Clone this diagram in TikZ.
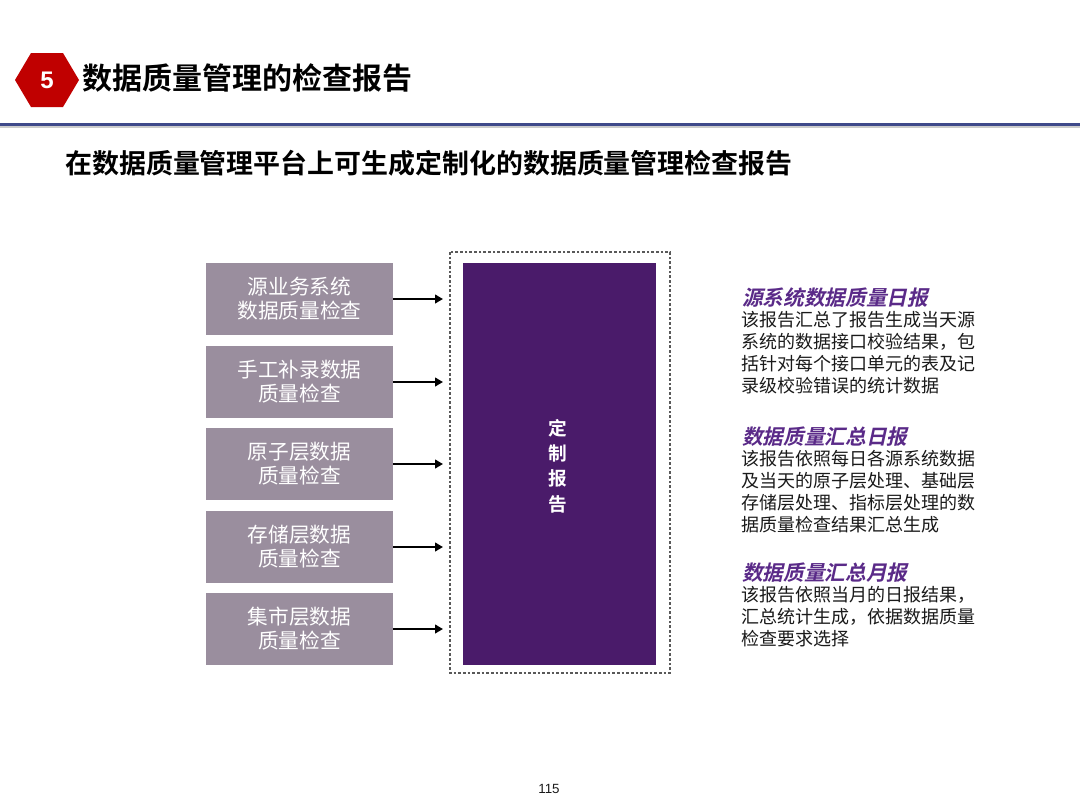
\documentclass[tikz,border=0pt]{standalone}
\usepackage{fontspec}
\setmainfont{Noto Sans CJK SC}
\newfontfamily\cjk{Noto Sans CJK SC}
\newfontfamily\cjkb{Noto Sans CJK SC Bold}
\newfontfamily\cjkbi{Noto Sans CJK SC Bold}[FakeSlant=0.22]
\newfontfamily\latn{Liberation Sans}
\usetikzlibrary{arrows.meta}
\definecolor{hexred}{HTML}{C00000}
\definecolor{navyline}{HTML}{3F4A8A}
\definecolor{boxgrey}{HTML}{9A8E9E}
\definecolor{rptpurple}{HTML}{4A1B6A}
\definecolor{ttlpurple}{HTML}{5A2A88}
\definecolor{bodytxt}{HTML}{1A1A1A}
\tikzset{
  srcbox/.style={fill=boxgrey, minimum width=140.25pt, minimum height=54pt, inner sep=0pt, align=center, text=white, font=\cjk\fontsize{15.5}{18}\selectfont},
  feed/.style={-{Triangle[length=6pt,width=6.5pt]}, line width=2.2pt, black},
  rtitle/.style={anchor=west, inner sep=0pt, text=ttlpurple, font=\cjkbi\fontsize{15.5}{18}\selectfont},
  rbody/.style={anchor=north west, inner sep=0pt, align=left, text=bodytxt, font=\cjk\fontsize{13.5}{16.6}\selectfont}
}
\begin{document}
\begin{tikzpicture}[x=0.75pt,y=-0.75pt]
\useasboundingbox (0,0) rectangle (1080,810);
\fill[white] (0,0) rectangle (1080,810);
% header
\fill[hexred] (15,80) -- (31,53) -- (63,53) -- (79,80) -- (63,107) -- (31,107) -- cycle;
\node[text=white, font=\latn\bfseries\fontsize{18}{20}\selectfont] (num) at (47,80) {5};
\node[anchor=west, inner sep=0pt, font=\cjkb\fontsize{22.5}{26}\selectfont] (title) at (82,78) {数据质量管理的检查报告};
\fill[gray!40] (0,125) rectangle (1080,127.5);
\fill[navyline] (0,122.5) rectangle (1080,125.5);
\node[anchor=west, inner sep=0pt, font=\cjkb\fontsize{20.2}{22}\selectfont] (sub) at (65,163) {在数据质量管理平台上可生成定制化的数据质量管理检查报告};
% report block
\draw[gray!70!black, dashed, dash pattern=on 2pt off 1.5pt, line width=0.8pt] (450,252) rectangle (670,673);
\fill[rptpurple] (463,263) rectangle (656,665);
\node[inner sep=0pt, minimum width=144.75pt, minimum height=301.5pt] (rpt) at (559.5,464) {};
\node[align=center, text=white, font=\cjkb\fontsize{14}{19}\selectfont] (rpttxt) at (558,466) {定\\制\\报\\告};
% source boxes
\node[srcbox] (s1) at (299.5,299) {源业务系统\\数据质量检查};
\node[srcbox] (s2) at (299.5,382) {手工补录数据\\质量检查};
\node[srcbox] (s3) at (299.5,464) {原子层数据\\质量检查};
\node[srcbox] (s4) at (299.5,547) {存储层数据\\质量检查};
\node[srcbox] (s5) at (299.5,629) {集市层数据\\质量检查};
\foreach \i in {1,...,5}{
  \coordinate (e\i) at (443,0 |- s\i.east);
  \draw[feed] (s\i.east) -- (e\i);
}
% right descriptions
\node[rtitle] (t1) at (742,298) {源系统数据质量日报};
\node[rbody] (b1) at (741,311) {该报告汇总了报告生成当天源\\系统的数据接口校验结果，包\\括针对每个接口单元的表及记\\录级校验错误的统计数据};
\node[rtitle] (t2) at (742,437) {数据质量汇总日报};
\node[rbody] (b2) at (741,450) {该报告依照每日各源系统数据\\及当天的原子层处理、基础层\\存储层处理、指标层处理的数\\据质量检查结果汇总生成};
\node[rtitle] (t3) at (742,573) {数据质量汇总月报};
\node[rbody] (b3) at (741,586) {该报告依照当月的日报结果，\\汇总统计生成，依据数据质量\\检查要求选择};
% page number
\node[font=\latn\fontsize{10}{12}\selectfont, text=bodytxt] (pg) at (549,789) {115};
\end{tikzpicture}
\end{document}
